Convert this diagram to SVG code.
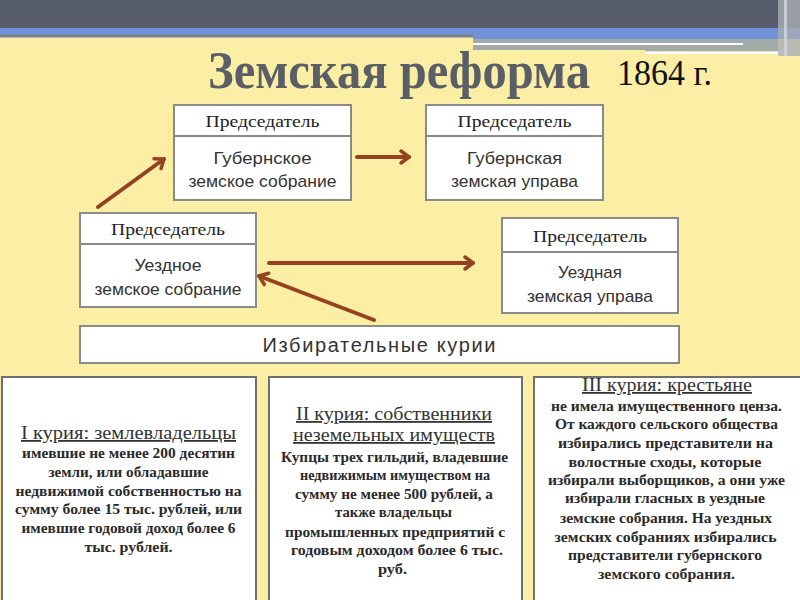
<svg xmlns="http://www.w3.org/2000/svg" width="800" height="600" viewBox="0 0 800 600">
<defs>
  <pattern id="dots" width="4" height="4" patternUnits="userSpaceOnUse">
    <rect width="4" height="4" fill="#fcefa6"/>
    <rect x="0" y="0" width="1" height="1" fill="#f3e49a"/>
    <rect x="2" y="2" width="1" height="1" fill="#f3e49a"/>
  </pattern>
  <marker id="chev" viewBox="-12 -10 14 20" markerWidth="14" markerHeight="20" refX="0" refY="0" orient="auto" markerUnits="userSpaceOnUse">
    <path d="M -8 -6 L 0 0 L -8 6" fill="none" stroke="#94421f" stroke-width="3.5" stroke-linecap="round" stroke-linejoin="round"/>
  </marker>
</defs>
<style>
  .box { fill: #ffffff; stroke: #8a8a8a; stroke-width: 2; }
  .div { stroke: #8a8a8a; stroke-width: 2; }
  .col { fill: #ffffff; stroke: #6e6e6e; stroke-width: 2; }
  .chair { font-family: "Liberation Serif", "DejaVu Serif", serif; font-size: 17px; fill: #222; text-anchor: middle; }
  .name { font-family: "Liberation Sans", "DejaVu Sans", sans-serif; font-size: 17px; fill: #333; text-anchor: middle; }
  .bar { font-family: "Liberation Sans", "DejaVu Sans", sans-serif; font-size: 20px; fill: #333; text-anchor: middle; }
  .ct { font-family: "Liberation Serif", "DejaVu Serif", serif; font-size: 18px; fill: #333; text-anchor: middle; text-decoration: underline; }
  .cb { font-family: "Liberation Serif", "DejaVu Serif", serif; font-size: 15px; font-weight: bold; fill: #2a2a2a; text-anchor: middle; }
  .cb3 { font-family: "Liberation Serif", "DejaVu Serif", serif; font-size: 14px; font-weight: bold; fill: #2a2a2a; text-anchor: middle; }
  .arrow { fill: none; stroke: #94421f; stroke-width: 4; stroke-linecap: round; marker-end: url(#chev); }
</style>

<!-- background -->
<rect x="0" y="0" width="800" height="600" fill="url(#dots)"/>

<!-- header bands -->
<g id="header">
  <rect x="0" y="0" width="800" height="28" fill="#575d6a"/>
  <rect x="0" y="28" width="800" height="7" fill="#6f93d6"/>
  <rect x="0" y="34.5" width="473" height="3" fill="#7b8492"/>
  <rect x="473" y="28" width="327" height="11" fill="#6f93d6"/>
  <rect x="473" y="39" width="305" height="11" fill="#a2aba8"/>
  <rect x="473" y="43" width="270" height="2" fill="#ffffff"/>
  <rect x="645" y="50" width="133" height="1.5" fill="#a2aba8"/>
  <rect x="645" y="51.5" width="140" height="2.5" fill="#ffffff"/>
  <rect x="778" y="0" width="22" height="56" fill="#a9aeb5" opacity="0.8"/>
  <rect x="784" y="0" width="3" height="56" fill="#d5d8dc" opacity="0.8"/>
</g>

<!-- title -->
<g id="title">
  <text x="208" y="88" font-family="Liberation Serif, DejaVu Serif, serif" font-weight="bold" font-size="52" fill="#5a5e66" textLength="382" lengthAdjust="spacingAndGlyphs">Земская реформа</text>
  <text x="617" y="85" font-family="Liberation Serif, DejaVu Serif, serif" font-size="36" fill="#111" textLength="95" lengthAdjust="spacingAndGlyphs">1864 г.</text>
</g>

<!-- nodes -->
<g id="gub-sobranie">
  <rect class="box" x="174" y="105" width="177" height="95"/>
  <line class="div" x1="174" y1="136" x2="351" y2="136"/>
  <text class="chair" x="262.5" y="127" textLength="114" lengthAdjust="spacingAndGlyphs">Председатель</text>
  <text class="name" x="262.5" y="164" textLength="98" lengthAdjust="spacingAndGlyphs">Губернское</text>
  <text class="name" x="262.5" y="187" textLength="148" lengthAdjust="spacingAndGlyphs">земское собрание</text>
</g>

<g id="gub-uprava">
  <rect class="box" x="426" y="105" width="177" height="95"/>
  <line class="div" x1="426" y1="136" x2="603" y2="136"/>
  <text class="chair" x="514.5" y="127" textLength="114" lengthAdjust="spacingAndGlyphs">Председатель</text>
  <text class="name" x="514.5" y="164" textLength="95" lengthAdjust="spacingAndGlyphs">Губернская</text>
  <text class="name" x="514.5" y="187" textLength="127" lengthAdjust="spacingAndGlyphs">земская управа</text>
</g>

<g id="uezd-sobranie">
  <rect class="box" x="80" y="213" width="176" height="94"/>
  <line class="div" x1="80" y1="244" x2="256" y2="244"/>
  <text class="chair" x="168" y="235" textLength="114" lengthAdjust="spacingAndGlyphs">Председатель</text>
  <text class="name" x="168" y="271" textLength="67" lengthAdjust="spacingAndGlyphs">Уездное</text>
  <text class="name" x="168" y="295" textLength="147" lengthAdjust="spacingAndGlyphs">земское собрание</text>
</g>

<g id="uezd-uprava">
  <rect class="box" x="502" y="218" width="176" height="95"/>
  <line class="div" x1="502" y1="252" x2="678" y2="252"/>
  <text class="chair" x="590" y="242" textLength="114" lengthAdjust="spacingAndGlyphs">Председатель</text>
  <text class="name" x="590" y="278" textLength="64" lengthAdjust="spacingAndGlyphs">Уездная</text>
  <text class="name" x="590" y="302" textLength="126" lengthAdjust="spacingAndGlyphs">земская управа</text>
</g>

<g id="kurii">
  <rect class="box" x="80" y="326" width="599" height="37"/>
  <text class="bar" x="379" y="352" textLength="233" lengthAdjust="spacing">Избирательные курии</text>
</g>

<!-- connectors -->
<g id="connectors">
  <line class="arrow" x1="98" y1="207" x2="164" y2="159"/>
  <line class="arrow" x1="357" y1="157" x2="409" y2="157"/>
  <line class="arrow" x1="269" y1="263" x2="473" y2="263"/>
  <line class="arrow" x1="374" y1="320" x2="259" y2="276"/>
</g>

<!-- bottom columns -->
<g id="kuria-1">
  <rect class="col" x="2" y="377" width="254" height="230"/>
  <text class="ct" x="128.5" y="439" textLength="215" lengthAdjust="spacingAndGlyphs">I  курия: землевладельцы</text>
  <text class="cb" x="128.5" y="458" textLength="213" lengthAdjust="spacingAndGlyphs">имевшие не менее 200 десятин</text>
  <text class="cb" x="128.5" y="477" textLength="160" lengthAdjust="spacingAndGlyphs">земли, или обладавшие</text>
  <text class="cb" x="128.5" y="496" textLength="226" lengthAdjust="spacingAndGlyphs">недвижимой собственностью на</text>
  <text class="cb" x="128.5" y="514" textLength="227" lengthAdjust="spacingAndGlyphs">сумму более 15 тыс. рублей, или</text>
  <text class="cb" x="128.5" y="533" textLength="214" lengthAdjust="spacingAndGlyphs">имевшие годовой доход более 6</text>
  <text class="cb" x="128.5" y="552" textLength="88" lengthAdjust="spacingAndGlyphs">тыс. рублей.</text>
</g>

<g id="kuria-2">
  <rect class="col" x="269" y="377" width="253" height="230"/>
  <text class="ct" x="394" y="420" textLength="196" lengthAdjust="spacingAndGlyphs">II курия: собственники</text>
  <text class="ct" x="394" y="441" textLength="202" lengthAdjust="spacingAndGlyphs">неземельных имуществ</text>
  <text class="cb" x="394.5" y="462" textLength="227" lengthAdjust="spacingAndGlyphs">Купцы трех гильдий, владевшие</text>
  <text class="cb" x="395" y="480" textLength="190" lengthAdjust="spacingAndGlyphs">недвижимым имуществом на</text>
  <text class="cb" x="394" y="499" textLength="198" lengthAdjust="spacingAndGlyphs">сумму не менее 500 рублей, а</text>
  <text class="cb" x="393.5" y="517" textLength="117" lengthAdjust="spacingAndGlyphs">также владельцы</text>
  <text class="cb" x="395" y="537" textLength="220" lengthAdjust="spacingAndGlyphs">промышленных предприятий с</text>
  <text class="cb" x="397" y="555" textLength="212" lengthAdjust="spacingAndGlyphs">годовым доходом более 6 тыс.</text>
  <text class="cb" x="392.5" y="574" textLength="29" lengthAdjust="spacingAndGlyphs">руб.</text>
</g>

<g id="kuria-3">
  <rect class="col" x="534" y="377" width="270" height="230"/>
  <text class="ct" x="667" y="391" textLength="170" lengthAdjust="spacingAndGlyphs">III курия: крестьяне</text>
  <text class="cb3" x="666.5" y="411" textLength="231" lengthAdjust="spacingAndGlyphs">не имела имущественного ценза.</text>
  <text class="cb3" x="666.5" y="429" textLength="223" lengthAdjust="spacingAndGlyphs">От каждого сельского общества</text>
  <text class="cb3" x="665.5" y="448" textLength="215" lengthAdjust="spacingAndGlyphs">избирались представители на</text>
  <text class="cb3" x="665" y="467" textLength="193" lengthAdjust="spacingAndGlyphs">волостные сходы, которые</text>
  <text class="cb3" x="666.5" y="485" textLength="237" lengthAdjust="spacingAndGlyphs">избирали выборщиков, а они уже</text>
  <text class="cb3" x="665" y="503" textLength="200" lengthAdjust="spacingAndGlyphs">избирали гласных в уездные</text>
  <text class="cb3" x="666" y="523" textLength="212" lengthAdjust="spacingAndGlyphs">земские собрания. На уездных</text>
  <text class="cb3" x="665.5" y="542" textLength="222" lengthAdjust="spacingAndGlyphs">земских собраниях избирались</text>
  <text class="cb3" x="665" y="560" textLength="194" lengthAdjust="spacingAndGlyphs">представители губернского</text>
  <text class="cb3" x="666.5" y="579" textLength="137" lengthAdjust="spacingAndGlyphs">земского собрания.</text>
</g>
</svg>
